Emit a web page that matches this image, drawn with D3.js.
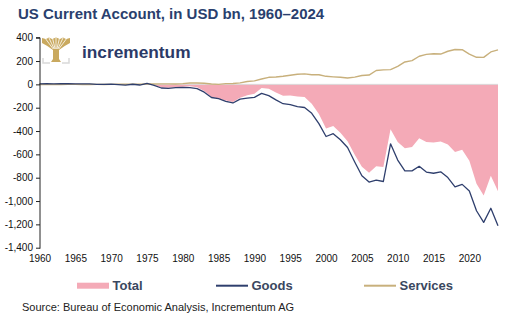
<!DOCTYPE html>
<html>
<head>
<meta charset="utf-8">
<script src="https://cdn.jsdelivr.net/npm/d3@7"></script>
<style>
  body { margin: 0; background: #fff; }
  svg { display: block; font-family: "Liberation Sans", Arial, sans-serif; }
</style>
</head>
<body>
<div id="chart"></div>
<script>
const years = d3.range(1960, 2025);

// goods balance, USD bn
const goods = [
  4.9, 5.6, 4.5, 5.2, 6.8, 5.0, 3.8, 3.8, 0.6, 0.6,
  2.6, -2.3, -6.4, 0.9, -5.5, 8.9, -9.5, -31.1, -33.9, -27.6,
  -25.5, -28.0, -36.5, -67.1, -112.5, -122.2, -145.1, -159.6, -127.0, -117.7,
  -111.0, -76.9, -96.9, -132.5, -165.8, -174.2, -191.0, -198.4, -248.2, -336.3,
  -446.8, -422.4, -475.2, -541.6, -664.8, -782.8, -837.3, -821.2, -832.5, -509.7,
  -648.7, -740.6, -741.1, -702.2, -751.5, -761.9, -749.8, -799.3, -878.7, -857.3,
  -913.9, -1083.5, -1183.0, -1062.0, -1212.0
];

// services balance, USD bn
const services = [
  -1.4, -1.4, -1.0, -0.8, -0.3, -0.3, -0.6, -1.2, -0.4, -0.5,
  -0.3, 1.0, 1.0, 1.0, 1.2, 3.5, 3.4, 3.8, 4.2, 3.0,
  6.1, 11.9, 12.3, 9.3, 3.4, 0.3, 6.5, 7.9, 12.4, 24.6,
  30.2, 45.8, 60.4, 63.7, 69.2, 77.8, 86.9, 90.2, 82.1, 82.7,
  69.0, 64.5, 61.2, 54.0, 61.6, 75.6, 79.7, 119.1, 123.8, 126.0,
  154, 192, 204, 241, 257, 263, 260, 284, 299, 297,
  259, 232, 231, 278, 295
];

// total (goods + services), USD bn
const total = [
  3.5, 4.2, 3.5, 4.4, 6.5, 4.7, 3.2, 2.6, 0.2, 0.1,
  2.3, -1.3, -5.4, 1.9, -4.3, 12.4, -6.1, -27.3, -29.7, -24.6,
  -19.4, -16.1, -24.2, -57.8, -109.1, -121.9, -138.6, -151.7, -114.6, -93.1,
  -80.8, -31.1, -36.5, -68.8, -96.6, -96.4, -104.1, -108.2, -166.1, -253.6,
  -377.8, -357.9, -414.0, -487.6, -603.2, -707.2, -757.6, -702.1, -708.7, -383.7,
  -494.7, -548.6, -537.1, -461.2, -494.5, -498.9, -489.8, -515.3, -579.7, -560.3,
  -654.9, -851.5, -952.0, -784.0, -917.0
];

const yTicks = d3.range(-1400, 401, 200);
const xTicks = d3.range(1960, 2021, 5);

const width = 518, height = 328;
const navy = "#2f3f6d", gold = "#c8b07c", pink = "#f4aab7", logoGold = "#c9a95f";

const svg = d3.select("#chart").append("svg")
  .attr("width", width)
  .attr("height", height);

const x = d3.scaleLinear().domain([1960, 2024]).range([39.5, 498]);
const y = d3.scaleLinear().domain([-1400, 400]).range([247.7, 37.7]);

const loc = d3.formatLocale({ decimal: ".", thousands: ",", grouping: [3], currency: ["$", ""], minus: "-" });
const fmt = loc.format(",");

// title
svg.append("text")
  .attr("x", 18).attr("y", 19)
  .style("font-size", "15px").style("font-weight", "bold")
  .style("fill", "#2a3f6e")
  .text("US Current Account, in USD bn, 1960\u20132024");

// total area
svg.append("path")
  .datum(years)
  .attr("fill", pink)
  .attr("d", d3.area()
    .x((d) => x(d))
    .y0(y(0))
    .y1((d, i) => y(total[i])));

// zero line
svg.append("line")
  .attr("x1", 40).attr("x2", 498)
  .attr("y1", y(0)).attr("y2", y(0))
  .attr("stroke", "#dadada").attr("stroke-width", 1);

const line = (vals) => d3.line().x((d) => x(d)).y((d, i) => y(vals[i]));

svg.append("path").datum(years)
  .attr("fill", "none").attr("stroke", gold).attr("stroke-width", 1.4)
  .attr("stroke-linejoin", "round")
  .attr("d", line(services));

svg.append("path").datum(years)
  .attr("fill", "none").attr("stroke", navy).attr("stroke-width", 1.3)
  .attr("stroke-linejoin", "round")
  .attr("d", line(goods));

// y axis
const yAxis = svg.append("g")
  .attr("transform", "translate(40,0)")
  .call(d3.axisLeft(y).tickValues(yTicks).tickSize(4).tickPadding(3).tickFormat(fmt));
yAxis.select(".domain").attr("stroke", "#222").attr("d", "M-4," + y(400) + "H0V" + (y(-1400) + 1));
yAxis.selectAll(".tick line").attr("stroke", "#222");
yAxis.selectAll("text").style("font-size", "10px").style("fill", "#111")
  .style("font-family", "'Liberation Sans', Arial, sans-serif");

// x axis
const xAxis = svg.append("g")
  .attr("transform", "translate(0,252)")
  .call(d3.axisBottom(x).tickValues(xTicks).tickSize(0).tickPadding(3).tickFormat(d3.format("d")));
xAxis.select(".domain").remove();
xAxis.selectAll("text").style("font-size", "10px").style("fill", "#111")
  .style("font-family", "'Liberation Sans', Arial, sans-serif");

// logo: gold tree with grey brackets
const logo = svg.append("g").attr("transform", "translate(42,37)");
logo.append("path")
  .attr("fill", logoGold)
  .attr("d", "M0,1 L4,2 L7,0.5 L10,2 L14,0.5 L18,2 L21,0.5 L24,2 L28,1 L28,6 Q22,9 17,13 L17,22 L19,25 L9,25 L11,22 L11,13 Q6,9 0,6 Z");
const br = logo.append("g").attr("stroke", "#fff").attr("stroke-width", 0.8).attr("fill", "none");
[-11, -7, -3.5, 0, 3.5, 7, 11].forEach((dx) => {
  br.append("path").attr("d", "M" + (14 + dx * 0.25) + ",12 Q" + (14 + dx * 0.6) + ",7 " + (14 + dx) + ",1");
});
logo.append("path")
  .attr("fill", "none").attr("stroke", "#d9d9d9").attr("stroke-width", 1.5)
  .attr("d", "M1,21 V26 H8 M20,26 H27 V21");

svg.append("text")
  .attr("x", 82).attr("y", 58)
  .style("font-size", "17.3px").style("font-weight", "bold")
  .style("fill", "#2b3a67")
  .text("incrementum");

// legend
const legendItems = [
  { name: "Total", x: 77, kind: "rect", color: pink },
  { name: "Goods", x: 216, kind: "line", color: navy },
  { name: "Services", x: 364, kind: "line", color: gold }
];
const lg = svg.append("g").attr("transform", "translate(0,285.7)");
legendItems.forEach((d) => {
  if (d.kind === "rect") {
    lg.append("rect").attr("x", d.x).attr("y", -3).attr("width", 32).attr("height", 6).attr("fill", d.color);
  } else {
    lg.append("line").attr("x1", d.x).attr("x2", d.x + 32).attr("y1", 0).attr("y2", 0)
      .attr("stroke", d.color).attr("stroke-width", 2);
  }
  lg.append("text")
    .attr("x", d.x + 35.5).attr("y", 4.5)
    .style("font-size", "13px").style("font-weight", "bold").style("fill", "#3a4760")
    .text(d.name);
});

// source
svg.append("text")
  .attr("x", 22).attr("y", 311)
  .style("font-size", "11px").style("fill", "#222")
  .text("Source: Bureau of Economic Analysis, Incrementum AG");
</script>
</body>
</html>
